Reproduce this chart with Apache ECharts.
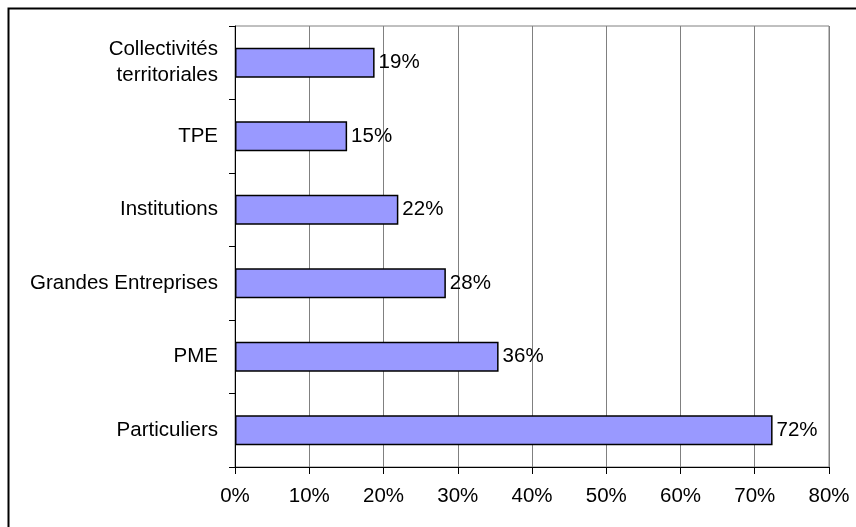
<!DOCTYPE html>
<html>
<head>
<meta charset="utf-8">
<script src="https://cdn.jsdelivr.net/npm/echarts@6/dist/echarts.min.js"></script>
<style>
html,body{margin:0;padding:0;background:#fff;}
#chart{width:856px;height:527px;}
</style>
</head>
<body>
<div id="chart"></div>
<script>
var categories = ['Collectivités\nterritoriales', 'TPE', 'Institutions', 'Grandes Entreprises', 'PME', 'Particuliers'];
var values = [0.188, 0.151, 0.220, 0.284, 0.355, 0.724];
var tickLabels = ['0%', '10%', '20%', '30%', '40%', '50%', '60%', '70%', '80%'];

var chart = echarts.init(document.getElementById('chart'), null, {renderer: 'canvas'});
var font = 'Liberation Sans, Arial, sans-serif';
var fs = 20.5;
chart.setOption({
  animation: false,
  backgroundColor: '#ffffff',
  graphic: [{
    type: 'rect',
    shape: {x: 8.5, y: 8.5, width: 900, height: 600},
    style: {fill: 'none', stroke: '#000000', lineWidth: 2},
    silent: true
  }],
  grid: {
    left: 235, right: 27, top: 26, bottom: 60,
    show: true, borderColor: '#808080', borderWidth: 1, backgroundColor: 'transparent',
    containLabel: false
  },
  xAxis: {
    type: 'value',
    min: 0, max: 0.8, interval: 0.1,
    axisLine: {show: true, lineStyle: {color: '#000', width: 1}},
    axisTick: {show: true, inside: false, length: 7, lineStyle: {color: '#000'}},
    splitLine: {show: true, lineStyle: {color: '#808080', width: 1}},
    axisLabel: {
      margin: 19, color: '#000', fontFamily: font, fontSize: fs,
      formatter: function (v) { return tickLabels[Math.round(v * 10)]; }
    }
  },
  yAxis: {
    type: 'category',
    data: categories,
    inverse: true,
    axisLine: {show: true, lineStyle: {color: '#000', width: 1}},
    axisTick: {show: true, length: 6, alignWithLabel: false, lineStyle: {color: '#000'}},
    splitLine: {show: false},
    axisLabel: {
      margin: 17, color: '#000', fontFamily: font, fontSize: fs, lineHeight: 26, align: 'right'
    }
  },
  series: [{
    type: 'bar',
    data: values,
    barWidth: 30,
    itemStyle: {color: '#9999FF', borderColor: '#000', borderWidth: 1.5},
    label: {
      show: true, position: 'right', distance: 4, color: '#000',
      fontFamily: font, fontSize: fs,
      formatter: function (p) { return Math.round(p.value * 100) + '%'; }
    }
  }]
});
</script>
</body>
</html>
